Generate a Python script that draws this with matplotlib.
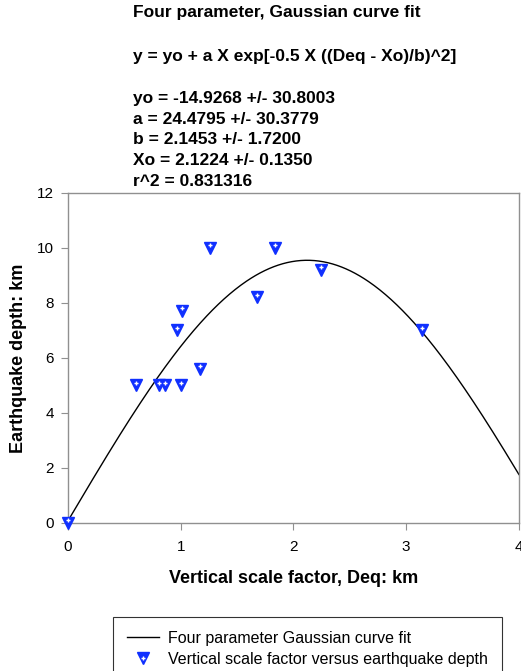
import numpy as np
import matplotlib
matplotlib.use("Agg")
import matplotlib.pyplot as plt
from matplotlib.legend_handler import HandlerTuple

# observed points
deq = [0.0, 0.60, 0.81, 0.86, 1.0, 0.97, 1.01, 1.17, 1.26, 1.68, 1.84, 2.245, 3.14]
depth = [0.0, 5.0, 5.0, 5.0, 5.0, 7.0, 7.7, 5.6, 10.0, 8.2, 10.0, 9.2, 7.0]

# fit parameters as reported
yo, a, b, xo = -14.9268, 24.4795, 2.1453, 2.1224

plt.rcParams['font.family'] = ['Liberation Sans', 'DejaVu Sans']

fig = plt.figure(figsize=(5.21, 6.71), dpi=100)
ax = fig.add_axes([0.1305, 0.2206, 0.8655, 0.4918])

xs = np.linspace(0, 4, 400)
ys = yo + a * np.exp(-0.5 * ((xs - xo) / b) ** 2)
line, = ax.plot(xs, ys, color='black', lw=1.0)

tri, = ax.plot(deq, depth, 'v', ms=8, color='#1030ff', mec='#1030ff', ls='none', clip_on=False, zorder=3)
plus, = ax.plot(deq, [d + 0.1 for d in depth], '+', ms=3.5, mew=1.0, color='white', ls='none', clip_on=False, zorder=4)

ax.set_xlim(0, 4)
ax.set_ylim(0, 12)
ax.set_xticks([0, 1, 2, 3, 4])
ax.set_yticks([0, 2, 4, 6, 8, 10, 12])
for s in ax.spines.values():
    s.set_color('#909090')
    s.set_linewidth(1.0)
ax.tick_params(direction='out', color='#909090', length=5, labelsize=11, pad=5)
ax.tick_params(axis='x', pad=7)

ax.set_xlabel('Vertical scale factor, Deq: km', fontsize=13, fontweight='bold', labelpad=12)
ax.set_ylabel('Earthquake depth: km', fontsize=13, fontweight='bold', labelpad=7)

fig.text(133/521, 1 - 13/671, 'Four parameter, Gaussian curve fit', fontsize=12.5, fontweight='bold', va='center')
fig.text(133/521, 1 - 56/671, 'y = yo + a X exp[-0.5 X ((Deq - Xo)/b)^2]', fontsize=12.5, fontweight='bold', va='center')
stats = ['yo = -14.9268 +/- 30.8003', 'a = 24.4795 +/- 30.3779', 'b = 2.1453 +/- 1.7200',
         'Xo = 2.1224 +/- 0.1350', 'r^2 = 0.831316']
for i, t in enumerate(stats):
    fig.text(133/521, 1 - (98 + i * 21)/671, t, fontsize=12.5, fontweight='bold', va='center')

leg = fig.legend([line, (tri, plus)], ['Four parameter Gaussian curve fit', 'Vertical scale factor versus earthquake depth'],
                 handler_map={tuple: HandlerTuple(ndivide=1, pad=0)},
                 loc='upper left', bbox_to_anchor=(113/521, 1 - 617/671), borderaxespad=0,
                 fontsize=11.5, frameon=True, fancybox=False, edgecolor='black', handlelength=2.0,
                 handletextpad=0.6, borderpad=0.85, labelspacing=0.4)
leg.get_frame().set_linewidth(0.8)

fig.savefig('out.png', dpi=100)
